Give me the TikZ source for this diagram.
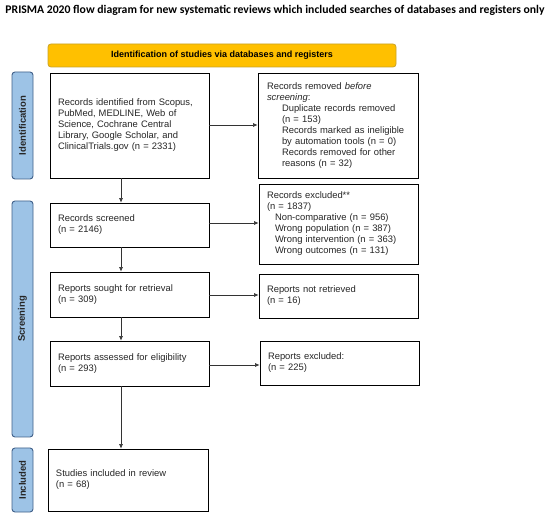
\documentclass[tikz,border=0pt]{standalone}
\usepackage{fontspec}
\setmainfont{Liberation Sans}
\newfontfamily\titlefont{Carlito}
\usetikzlibrary{arrows.meta}
\definecolor{bannerfill}{HTML}{FFC000}
\definecolor{bannerdraw}{HTML}{C9A227}
\definecolor{sidefill}{HTML}{9DC3E6}
\definecolor{sidedraw}{HTML}{41618A}
\definecolor{linegrey}{HTML}{333333}
\tikzset{
  x=1pt, y=1pt,
  flowbox/.style={draw=black, line width=0.8pt, rectangle, inner xsep=8pt, inner ysep=3pt,
    align=left, font=\fontsize{9.4}{11}\selectfont, text=black!85},
  sidelabel/.style={draw=sidedraw, fill=sidefill, line width=0.9pt, rounded corners=3pt,
    rotate=90, font=\bfseries\fontsize{9.5}{11}\selectfont, text=black!85, inner sep=0pt},
  flowarrow/.style={draw=linegrey, line width=0.6pt, -{Latex[length=4.5pt,width=4pt]}}
}
\begin{document}
\begin{tikzpicture}
\useasboundingbox (0,0) rectangle (550,-516);
\fill[white] (0,0) rectangle (550,-516);

\node[anchor=center, font=\titlefont\bfseries\fontsize{11.7}{13}\selectfont] (title) at (275,-10) {PRISMA 2020 flow diagram for new systematic reviews which included searches of databases and registers only};

\node[draw=bannerdraw, fill=bannerfill, line width=0.8pt, rounded corners=3pt, minimum width=348pt, minimum height=23pt, inner sep=0pt, font=\bfseries\fontsize{9}{11}\selectfont] (banner) at (222,-55.5) {Identification of studies via databases and registers};

% side labels
\node[sidelabel, minimum width=107pt, minimum height=21pt] (lid) at (22.5,-125.5) {Identification};
\node[sidelabel, minimum width=236pt, minimum height=21pt] (lscr) at (22.5,-319) {Screening};
\node[sidelabel, minimum width=64pt, minimum height=21pt] (linc) at (22.5,-480) {Included};

% left column
\node[flowbox, minimum width=159pt, minimum height=105pt, text width=143pt] (ident) at (129.5,-125.5)
  {Records identified from Scopus,\\PubMed, MEDLINE, Web of\\Science, Cochrane Central\\Library, Google Scholar, and\\ClinicalTrials.gov (n = 2331)};
\node[flowbox, minimum width=159pt, minimum height=44pt, text width=143pt] (screened) at (129.5,-225)
  {Records screened\\(n = 2146)};
\node[flowbox, minimum width=159pt, minimum height=45pt, text width=143pt] (sought) at (129.5,-294.5)
  {Reports sought for retrieval\\(n = 309)};
\node[flowbox, minimum width=159pt, minimum height=45pt, text width=143pt] (assessed) at (129.5,-363.5)
  {Reports assessed for eligibility\\(n = 293)};
\node[flowbox, minimum width=160pt, minimum height=62pt, text width=144pt] (included) at (128,-480)
  {Studies included in review\\(n = 68)};

% right column
\node[flowbox, inner xsep=9pt, minimum width=160pt, minimum height=105pt, text width=142pt] (removed) at (338,-125.5)
  {Records removed \textit{before}\\\textit{screening}:\\
   \hspace*{15pt}Duplicate records removed\\
   \hspace*{15pt}(n = 153)\\
   \hspace*{15pt}Records marked as ineligible\\
   \hspace*{15pt}by automation tools (n = 0)\\
   \hspace*{15pt}Records removed for other\\
   \hspace*{15pt}reasons (n = 32)};
\node[flowbox, inner xsep=8pt, minimum width=159pt, minimum height=80pt, text width=143pt] (excluded) at (338.5,-224)
  {Records excluded**\\(n = 1837)\\
   \hspace*{8pt}Non-comparative (n = 956)\\
   \hspace*{8pt}Wrong population (n = 387)\\
   \hspace*{8pt}Wrong intervention (n = 363)\\
   \hspace*{8pt}Wrong outcomes (n = 131)};
\node[flowbox, minimum width=159pt, minimum height=44pt, text width=143pt] (notretr) at (338.5,-296)
  {Reports not retrieved\\(n = 16)};
\node[flowbox, minimum width=159pt, minimum height=44pt, text width=143pt] (repexcl) at (339.5,-363)
  {Reports excluded:\\(n = 225)};

% arrows
\draw[flowarrow] (ident.south -| 121,0) -- (screened.north -| 121,0);
\draw[flowarrow] (screened.south -| 121,0) -- (sought.north -| 121,0);
\draw[flowarrow] (sought.south -| 121,0) -- (assessed.north -| 121,0);
\draw[flowarrow] (assessed.south -| 121,0) -- (included.north -| 121,0);

\draw[flowarrow] (ident.east |- 0,-125) -- (removed.west |- 0,-125);
\draw[flowarrow] (screened.east |- 0,-223) -- (excluded.west |- 0,-223);
\draw[flowarrow] (sought.east |- 0,-295) -- (notretr.west |- 0,-295);
\draw[flowarrow] (assessed.east |- 0,-365) -- (repexcl.west |- 0,-365);
\end{tikzpicture}
\end{document}
